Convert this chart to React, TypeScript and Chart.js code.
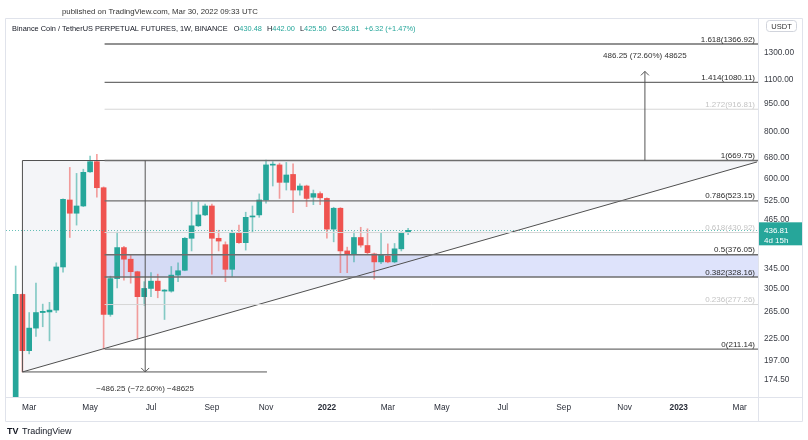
import React, { useEffect, useRef } from "react";
import { Chart, registerables } from "chart.js";

Chart.register(...registerables);

const FONT = '"Liberation Sans", Arial, sans-serif';
const GREEN = "#26a69a";
const RED = "#ef5350";
const GREEN_WICK = "rgba(38,166,154,0.55)";
const RED_WICK = "rgba(239,83,80,0.55)";

// ---- weekly candles (BNB/USDT perpetual, 1W) ----
const weeks = [
  "2021-02-15", "2021-02-22", "2021-03-01", "2021-03-08", "2021-03-15", "2021-03-22", "2021-03-29",
  "2021-04-05", "2021-04-12", "2021-04-19", "2021-04-26", "2021-05-03", "2021-05-10", "2021-05-17",
  "2021-05-24", "2021-05-31", "2021-06-07", "2021-06-14", "2021-06-21", "2021-06-28", "2021-07-05",
  "2021-07-12", "2021-07-19", "2021-07-26", "2021-08-02", "2021-08-09", "2021-08-16", "2021-08-23",
  "2021-08-30", "2021-09-06", "2021-09-13", "2021-09-20", "2021-09-27", "2021-10-04", "2021-10-11",
  "2021-10-18", "2021-10-25", "2021-11-01", "2021-11-08", "2021-11-15", "2021-11-22", "2021-11-29",
  "2021-12-06", "2021-12-13", "2021-12-20", "2021-12-27", "2022-01-03", "2022-01-10", "2022-01-17",
  "2022-01-24", "2022-01-31", "2022-02-07", "2022-02-14", "2022-02-21", "2022-02-28", "2022-03-07",
  "2022-03-14", "2022-03-21", "2022-03-28",
];
const opens = [
  130, 295, 209, 240, 264, 265, 268, 349, 526, 485, 507, 625, 665, 567, 261, 325, 393, 366, 339, 291,
  306, 320, 301, 301, 332, 342, 416, 449, 480, 507, 416, 400, 344, 430, 405, 474, 480, 526, 651, 652,
  586, 615, 559, 573, 535, 547, 531, 440, 500, 385, 378, 418, 398, 378, 360, 373, 360, 390, 430.48,
];
const highs = [
  351, 296, 264, 316, 278, 281, 358, 530, 642, 619, 635, 688, 696, 570, 330, 432, 396, 375, 340, 319,
  337, 334, 304, 350, 358, 418, 520, 520, 513, 513, 437, 407, 437, 451, 488, 507, 546, 672, 665, 659,
  662, 656, 581, 576, 559, 553, 533, 503, 502, 394, 433, 445, 441, 380, 429, 402, 403, 433, 442,
];
const lows = [
  120, 183.5, 205, 228, 242, 222, 264, 338, 418, 451, 505, 623, 535, 211.14, 258, 307, 322, 316, 225, 276,
  291, 289, 253, 299, 319, 341, 385, 447, 478, 334, 385, 319, 329, 403, 387, 433, 473, 516, 573, 531,
  559, 487, 542, 505, 511, 511, 416, 407, 337, 337, 360, 394, 378, 324, 356, 358, 358, 385, 425.5,
];
const closes = [
  295, 209, 240, 264, 266, 268, 349, 528, 485, 507, 623, 665, 567, 261, 325, 393, 366, 339, 291, 306,
  320, 302, 303, 332, 341, 416, 449, 480, 507, 416, 409, 344, 430, 405, 473, 477, 526, 652, 655, 586,
  613, 559, 573, 531, 547, 533, 440, 500, 385, 378, 418, 399, 381, 360, 375, 360, 390, 430.49, 436.81,
];

// ---- axes ----
const xRange = ["2021-02-05", "2023-03-25"];
const xTickDates = [
  "2021-03-01", "2021-05-03", "2021-07-05", "2021-09-06", "2021-11-01", "2022-01-03", "2022-03-07",
  "2022-05-02", "2022-07-04", "2022-09-05", "2022-11-07", "2023-01-02", "2023-03-06",
];
const xTickLabels = ["Mar", "May", "Jul", "Sep", "Nov", "2022", "Mar", "May", "Jul", "Sep", "Nov", "2023", "Mar"];
const yRange = [157.4, 1603];
const yTickValues = [1300, 1100, 950, 800, 680, 600, 525, 465, 345, 305, 265, 225, 197, 174.5];

// ---- drawings ----
const fibRatios = ["1.618", "1.414", "1.272", "1", "0.786", "0.618", "0.5", "0.382", "0.236", "0"];
const fibPrices = [1366.92, 1080.11, 916.81, 669.75, 523.15, 430.92, 376.05, 328.16, 277.26, 211.14];
const fibMuted = [false, false, true, false, false, true, false, false, true, false];
const fibStart = "2021-05-18";
const fibBand = [376.05, 328.16];

const triangleStart = "2021-02-22";
const triangleEnd = "2023-03-24";
const triangleHigh = 669.75;
const triangleLow = 183.5;
const triangleEndPrice = 664;

const rangeDownDate = "2021-06-29";
const rangeDownEnd = "2021-11-02";
const rangeDownFrom = 669.75;
const rangeDownTo = 183.5;

const rangeUpDate = "2022-11-28";
const rangeUpFrom = 669.75;
const rangeUpTo = 1156.0;

const countdown = "4d 15h";

const epoch = Date.UTC(2021, 1, 15);
function day(s: string): number {
  const [y, m, d] = s.split("-").map(Number);
  return (Date.UTC(y, m - 1, d) - epoch) / 86400000;
}

function rangeLabel(from: number, to: number): string {
  const diff = to - from;
  const sign = diff < 0 ? "\u2212" : "";
  const a = Math.abs(diff);
  return `${sign}${a.toFixed(2)} (${sign}${((a / from) * 100).toFixed(2)}%) ${sign}${Math.round(a * 100)}`;
}

const overlayPlugin: any = {
  id: "overlay",
  beforeDatasetsDraw(chart: any) {
    const { ctx, chartArea: a, scales } = chart;
    const X = (d: string) => scales.x.getPixelForValue(day(d));
    const Y = (p: number) => scales.y.getPixelForValue(p);
    ctx.save();
    ctx.beginPath();
    ctx.rect(a.left, a.top, a.right - a.left, a.bottom - a.top);
    ctx.clip();
    const xl = X(triangleStart), xe = X(triangleEnd);
    ctx.fillStyle = "rgba(200,206,218,0.2)";
    ctx.beginPath();
    ctx.moveTo(xl, Y(triangleHigh));
    ctx.lineTo(xl, Y(triangleLow));
    ctx.lineTo(xe, Y(triangleEndPrice));
    ctx.lineTo(xe, Y(triangleHigh));
    ctx.closePath();
    ctx.fill();
    const xf = X(fibStart);
    ctx.fillStyle = "rgba(60,90,230,0.17)";
    const y1 = Y(fibBand[0]), y2 = Y(fibBand[1]);
    ctx.fillRect(xf, y1, a.right - xf, y2 - y1);
    ctx.restore();
  },
  afterDatasetsDraw(chart: any) {
    const { ctx, chartArea: a, scales } = chart;
    const X = (d: string) => scales.x.getPixelForValue(day(d));
    const Y = (p: number) => scales.y.getPixelForValue(p);
    ctx.save();
    ctx.beginPath();
    ctx.rect(a.left, a.top, a.right - a.left, a.bottom - a.top);
    ctx.clip();

    const lp = closes[closes.length - 1];
    ctx.strokeStyle = "rgba(38,166,154,0.7)";
    ctx.lineWidth = 1;
    ctx.setLineDash([1, 2]);
    ctx.beginPath();
    ctx.moveTo(a.left, Math.round(Y(lp)) + 0.5);
    ctx.lineTo(a.right, Math.round(Y(lp)) + 0.5);
    ctx.stroke();
    ctx.setLineDash([]);

    const xl = X(triangleStart), xe = X(triangleEnd);
    ctx.strokeStyle = "#505050";
    ctx.lineWidth = 1;
    ctx.beginPath();
    ctx.moveTo(xe, Y(triangleEndPrice));
    ctx.lineTo(xl, Y(triangleLow));
    ctx.lineTo(xl, Y(triangleHigh));
    ctx.lineTo(a.right, Y(triangleHigh));
    ctx.stroke();

    const xf = X(fibStart);
    ctx.font = `8px ${FONT}`;
    ctx.textAlign = "right";
    ctx.textBaseline = "alphabetic";
    fibPrices.forEach((p, i) => {
      const yy = Y(p);
      ctx.strokeStyle = fibMuted[i] ? "#d6d6d6" : "#6e6e6e";
      ctx.lineWidth = fibMuted[i] ? 1 : 1.3;
      ctx.beginPath();
      ctx.moveTo(xf, yy);
      ctx.lineTo(a.right, yy);
      ctx.stroke();
      ctx.fillStyle = fibMuted[i] ? "#c4c4c4" : "#2a2a2a";
      ctx.fillText(`${fibRatios[i]}(${p.toFixed(2)})`, a.right - 3, yy - 2.5);
    });

    const xd = X(rangeDownDate);
    const yTop = Y(rangeDownFrom), yLow = Y(rangeDownTo);
    ctx.strokeStyle = "#555";
    ctx.lineWidth = 1;
    ctx.beginPath();
    ctx.moveTo(xl, yLow);
    ctx.lineTo(X(rangeDownEnd), yLow);
    ctx.moveTo(xd, yTop);
    ctx.lineTo(xd, yLow);
    ctx.moveTo(xd - 4, yLow - 4);
    ctx.lineTo(xd, yLow);
    ctx.lineTo(xd + 4, yLow - 4);
    ctx.stroke();
    ctx.textAlign = "center";
    ctx.fillStyle = "#333";
    ctx.fillText(rangeLabel(rangeDownFrom, rangeDownTo), xd, yLow + 19);

    const xu = X(rangeUpDate);
    const yu0 = Y(rangeUpFrom), yu1 = Y(rangeUpTo);
    ctx.beginPath();
    ctx.moveTo(xu, yu0);
    ctx.lineTo(xu, yu1);
    ctx.moveTo(xu - 4, yu1 + 4);
    ctx.lineTo(xu, yu1);
    ctx.lineTo(xu + 4, yu1 + 4);
    ctx.stroke();
    ctx.fillText(rangeLabel(rangeUpFrom, rangeUpTo), xu, yu1 - 13);
    ctx.restore();
  },
  afterDraw(chart: any) {
    const { ctx, chartArea: a, scales } = chart;
    const Y = (p: number) => scales.y.getPixelForValue(p);
    ctx.save();
    ctx.strokeStyle = "#e0e3eb";
    ctx.lineWidth = 1;
    ctx.beginPath();
    ctx.rect(5.5, a.top + 0.5, 797, 421 - a.top);
    ctx.moveTo(Math.round(a.right) + 0.5, a.top);
    ctx.lineTo(Math.round(a.right) + 0.5, 421.5);
    ctx.moveTo(5.5, Math.round(a.bottom) + 0.5);
    ctx.lineTo(802.5, Math.round(a.bottom) + 0.5);
    ctx.stroke();

    ctx.textAlign = "left";
    ctx.textBaseline = "alphabetic";
    ctx.fillStyle = "#333";
    ctx.font = `7.8px ${FONT}`;
    ctx.fillText("published on TradingView.com, Mar 30, 2022 09:33 UTC", 62, 13.5);

    const n = closes.length - 1;
    const chg = closes[n] - closes[n - 1];
    const pct = (chg / closes[n - 1]) * 100;
    const sg = chg >= 0 ? "+" : "\u2212";
    ctx.font = `7.4px ${FONT}`;
    const segs: [string, string, number][] = [
      ["Binance Coin / TetherUS PERPETUAL FUTURES, 1W, BINANCE", "#131722", 6],
      ["O", "#131722", 0], [opens[n].toFixed(2), GREEN, 5],
      ["H", "#131722", 0], [highs[n].toFixed(2), GREEN, 5],
      ["L", "#131722", 0], [lows[n].toFixed(2), GREEN, 5],
      ["C", "#131722", 0], [closes[n].toFixed(2), GREEN, 5],
      [`${sg}${Math.abs(chg).toFixed(2)} (${sg}${Math.abs(pct).toFixed(2)}%)`, GREEN, 0],
    ];
    let hx = 12;
    segs.forEach(([t, c, gap]) => {
      ctx.fillStyle = c;
      ctx.fillText(t, hx, 30.5);
      hx += ctx.measureText(t).width + gap;
    });

    ctx.strokeStyle = "#d1d4dc";
    ctx.beginPath();
    (ctx as any).roundRect ? (ctx as any).roundRect(766.5, 20.5, 30, 11, 3) : ctx.rect(766.5, 20.5, 30, 11);
    ctx.stroke();
    ctx.fillStyle = "#333";
    ctx.font = `7.5px ${FONT}`;
    ctx.textAlign = "center";
    ctx.fillText("USDT", 781.5, 29);

    const lp = closes[n];
    const yl = Y(lp);
    ctx.fillStyle = GREEN;
    ctx.fillRect(a.right + 1, yl - 8, 802 - a.right - 1, 23);
    ctx.fillStyle = "#fff";
    ctx.font = `8px ${FONT}`;
    ctx.textAlign = "left";
    ctx.fillText(lp.toFixed(2), a.right + 6, yl + 3);
    ctx.fillText(countdown, a.right + 6, yl + 12.5);

    ctx.fillStyle = "#131722";
    ctx.font = `bold 9px ${FONT}`;
    ctx.fillText("TV", 7, 434);
    ctx.font = `9px ${FONT}`;
    ctx.fillText("TradingView", 22, 434);
    ctx.restore();
  },
};

export default function App() {
  const ref = useRef<HTMLCanvasElement | null>(null);
  useEffect(() => {
    if (!ref.current) return;
    const up = weeks.map((_, i) => closes[i] >= opens[i]);
    const bodies = weeks.map((w, i) => ({ x: day(w), y: [opens[i], closes[i]] }));
    const wicks = weeks.map((w, i) => ({ x: day(w), y: [lows[i], highs[i]] }));
    const chart = new Chart(ref.current, {
      type: "bar",
      data: {
        datasets: [
          {
            data: bodies as any,
            backgroundColor: up.map((u) => (u ? GREEN : RED)),
            barThickness: 5,
            minBarLength: 1,
            grouped: false,
            borderWidth: 0,
          } as any,
          {
            data: wicks as any,
            backgroundColor: up.map((u) => (u ? GREEN_WICK : RED_WICK)),
            barThickness: 1,
            grouped: false,
            borderWidth: 0,
          } as any,
        ],
      },
      options: {
        responsive: false,
        animation: false,
        layout: { padding: { left: 6, top: 18, right: 5, bottom: 19 } },
        plugins: { legend: { display: false }, tooltip: { enabled: false } },
        scales: {
          x: {
            type: "linear",
            offset: false,
            min: day(xRange[0]),
            max: day(xRange[1]),
            bounds: "data",
            grid: { display: false, drawTicks: false, offset: false },
            border: { display: false },
            afterBuildTicks: (s: any) => {
              s.ticks = xTickDates.map((d) => ({ value: day(d) }));
            },
            afterFit: (s: any) => {
              s.height = 24;
            },
            ticks: {
              autoSkip: false,
              maxRotation: 0,
              padding: 6,
              color: "#2a2e39",
              font: (c: any) => ({
                family: FONT,
                size: 8.3,
                weight: /^\d{4}$/.test(xTickLabels[c.index] || "") ? "bold" : "normal",
              }),
              callback: (_v: any, i: number) => xTickLabels[i],
            },
          } as any,
          y: {
            type: "logarithmic",
            position: "right",
            min: yRange[0],
            max: yRange[1],
            bounds: "data",
            grid: { display: false, drawTicks: false },
            border: { display: false },
            afterBuildTicks: (s: any) => {
              s.ticks = yTickValues.map((v) => ({ value: v }));
            },
            afterFit: (s: any) => {
              s.width = 45;
            },
            ticks: {
              autoSkip: false,
              padding: 6,
              color: "#3a3d45",
              font: { family: FONT, size: 8.3 },
              callback: (v: any) => Number(v).toFixed(2),
            },
          } as any,
        },
      },
      plugins: [overlayPlugin],
    });
    return () => chart.destroy();
  }, []);
  return (
    <div style={{ position: "absolute", left: 0, top: 0, width: 808, height: 440, background: "#fff" }}>
      <canvas ref={ref} width={808} height={440} style={{ display: "block" }} />
    </div>
  );
}
